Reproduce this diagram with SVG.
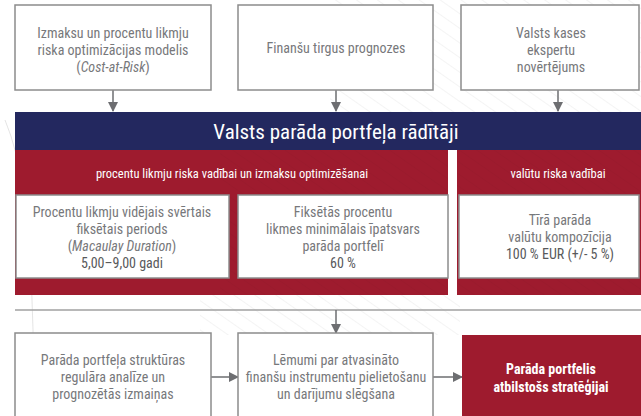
<svg xmlns="http://www.w3.org/2000/svg" width="641" height="416" viewBox="0 0 641 416">
<defs>
<style>
.box{fill:#fff;stroke:#8c8c8c;stroke-width:1.5}
.t{font-family:"Liberation Sans Narrow","Roboto Condensed","DejaVu Sans Condensed","Liberation Sans",sans-serif;font-size:14px;fill:#77787b;text-anchor:middle}
.d{fill:#58595b}
.w{fill:#fff}
.b{font-weight:bold}
.i{font-style:italic}
.conn{stroke:#6d6e71;stroke-width:1.5;fill:none}
</style>
<marker id="ah" viewBox="0 0 10 10" refX="9" refY="5" markerWidth="10" markerHeight="10" markerUnits="userSpaceOnUse" orient="auto">
<path d="M0,0 L10,5 L0,10 z" fill="#6d6e71"/>
</marker>
<pattern id="hatch" width="12" height="12" patternUnits="userSpaceOnUse" patternTransform="rotate(-55)">
<line x1="0" y1="0" x2="0" y2="12" stroke="#cfcfcf" stroke-width="0.6"/>
</pattern>
<pattern id="hatchR" width="10" height="10" patternUnits="userSpaceOnUse" patternTransform="rotate(-55)">
<line x1="0" y1="0" x2="0" y2="10" stroke="#8a1526" stroke-width="0.6"/>
</pattern>
</defs>
<rect width="641" height="416" fill="#fff"/>
<g id="background">
<rect x="330" y="0" width="311" height="112" fill="url(#hatch)" opacity="0.8"/>
<rect x="200" y="290" width="260" height="45" fill="url(#hatch)" opacity="0.8"/>
<path d="M5,120 Q30,180 32,300 Q35,360 30,416" stroke="#dddddd" stroke-width="0.8" fill="none"/>
</g>
<g id="connectors">
<line class="conn" x1="113" y1="90" x2="113" y2="111" marker-end="url(#ah)"/>
<line class="conn" x1="336" y1="90" x2="336" y2="111" marker-end="url(#ah)"/>
<line class="conn" x1="558" y1="90" x2="558" y2="111" marker-end="url(#ah)"/>
<line x1="15" y1="310" x2="641" y2="310" stroke="#a0a0a0" stroke-width="1.5"/>
<line class="conn" x1="336" y1="310" x2="336" y2="333" marker-end="url(#ah)"/>
<line class="conn" x1="211" y1="377" x2="238" y2="377" marker-end="url(#ah)"/>
<line class="conn" x1="433" y1="377" x2="462" y2="377" marker-end="url(#ah)"/>
</g>
<g id="n1">
<rect class="box" x="15" y="5" width="196" height="85"/>
<text class="t" x="113" y="38">Izmaksu un procentu likmju</text>
<text class="t" x="113" y="55">riska optimizācijas modelis</text>
<text class="t" x="113" y="72">(<tspan class="i">Cost-at-Risk</tspan>)</text>
</g>
<g id="n2">
<rect class="box" x="238" y="5" width="195" height="85"/>
<text class="t" x="336" y="53">Finanšu tirgus prognozes</text>
</g>
<g id="n3">
<rect class="box" x="461" y="5" width="178" height="85"/>
<text class="t" x="551" y="38">Valsts kases</text>
<text class="t" x="551" y="55">ekspertu</text>
<text class="t" x="551" y="72">novērtējums</text>
</g>
<g id="header">
<rect x="15" y="112" width="626" height="38" fill="#23285f"/>
<text class="t w" x="336" y="139" style="font-size:21px">Valsts parāda portfeļa rādītāji</text>
</g>
<g id="sec1">
<rect x="15" y="150" width="433" height="145" fill="#9e1b2e"/>
<rect x="220" y="150" width="228" height="145" fill="url(#hatchR)" opacity="0.6"/>
<text class="t w" x="232" y="178" style="font-size:12.5px">procentu likmju riska vadībai un izmaksu optimizēšanai</text>
</g>
<g id="sec2">
<rect x="457" y="150" width="184" height="145" fill="#9e1b2e"/>
<rect x="457" y="150" width="184" height="145" fill="url(#hatchR)" opacity="0.6"/>
<text class="t w" x="558" y="178" style="font-size:12.5px">valūtu riska vadībai</text>
</g>
<g id="nA">
<rect class="box" x="16" y="195" width="213" height="83"/>
<text class="t" x="122" y="217">Procentu likmju vidējais svērtais</text>
<text class="t" x="122" y="234">fiksētais periods</text>
<text class="t" x="122" y="251">(<tspan class="i">Macaulay Duration</tspan>)</text>
<text class="t d" x="122" y="268">5,00–9,00 gadi</text>
</g>
<g id="nB">
<rect class="box" x="238" y="195" width="210" height="83"/>
<text class="t" x="343" y="217">Fiksētās procentu</text>
<text class="t" x="343" y="234">likmes minimālais īpatsvars</text>
<text class="t" x="343" y="251">parāda portfelī</text>
<text class="t d" x="343" y="268">60 %</text>
</g>
<g id="nC">
<rect class="box" x="459" y="195" width="180" height="83"/>
<text class="t" x="560" y="225">Tīrā parāda</text>
<text class="t" x="560" y="242">valūtu kompozīcija</text>
<text class="t d" x="560" y="259">100 % EUR (+/- 5 %)</text>
</g>
<g id="nD">
<rect class="box" x="15" y="333" width="196" height="95"/>
<text class="t" x="113" y="365">Parāda portfeļa struktūras</text>
<text class="t" x="113" y="382">regulāra analīze un</text>
<text class="t" x="113" y="399">prognozētās izmaiņas</text>
</g>
<g id="nE">
<rect class="box" x="238" y="333" width="195" height="95"/>
<text class="t" x="336" y="365">Lēmumi par atvasināto</text>
<text class="t" x="336" y="382">finanšu instrumentu  pielietošanu</text>
<text class="t" x="336" y="399">un darījumu slēgšana</text>
</g>
<g id="nF">
<rect x="462" y="335" width="179" height="81" fill="#9e1b2e"/>
<text class="t w b" x="551" y="374">Parāda portfelis</text>
<text class="t w b" x="551" y="392">atbilstošs stratēģijai</text>
</g>
</svg>
